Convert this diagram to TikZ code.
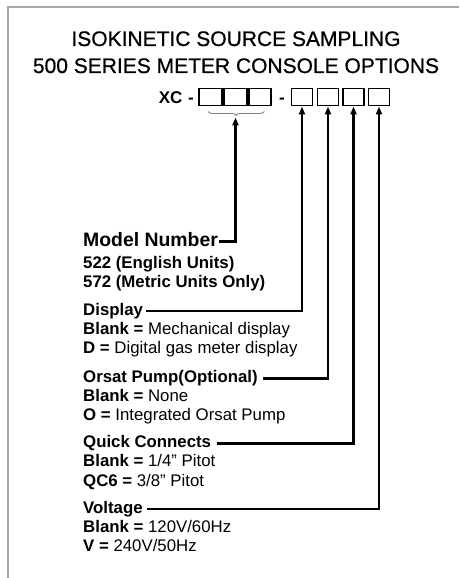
\documentclass[tikz,border=0pt]{standalone}
\usepackage{fontspec}
\setmainfont{Liberation Sans}
\newfontfamily\titlefont[FakeBold=0.7]{Liberation Sans}
\usetikzlibrary{arrows.meta, positioning, decorations.pathreplacing}

\begin{document}
\begin{tikzpicture}[
    x=1pt, y=-1pt,
    ttl/.style={font=\titlefont\fontsize{21}{25}\selectfont, anchor=base, inner sep=0pt},
    code/.style={font=\fontsize{17}{20}\selectfont\bfseries, anchor=base, inner sep=0pt},
    slotA/.style={draw, line width=1.9pt, minimum width=22.5pt, minimum height=17pt, inner sep=0pt},
    slotB/.style={draw, line width=1.9pt, minimum width=21pt, minimum height=17pt, inner sep=0pt},
    mdlhdr/.style={font=\fontsize{19.4}{22}\selectfont\bfseries, anchor=base west, inner sep=1pt,
                   text height=13pt, text depth=4pt},
    hdr/.style={font=\fontsize{16.8}{19}\selectfont\bfseries, anchor=base west, inner sep=1pt,
                text height=11pt, text depth=3pt},
    opt/.style={font=\fontsize{16.8}{19}\selectfont, anchor=base west, inner sep=1pt},
    arr/.style={-{Triangle[length=8pt, width=6pt]}, line width=2.2pt},
    brc/.style={draw=gray, line width=0.9pt, decorate,
                decoration={brace, mirror, amplitude=4pt}},
    frame/.style={draw=gray!70, line width=1.3pt}
]
\useasboundingbox (0,0) rectangle (459,578);

% frame (top and left edge only)
\draw[frame] (459,7) -| (8,578);

% title
\node[ttl] (t1) at (236,46) {ISOKINETIC SOURCE SAMPLING};
\node[ttl] (t2) at (236,73) {500 SERIES METER CONSOLE OPTIONS};

% part number  XC - [][][] - [][][][]
\node[code, anchor=base east] (xc) at (194,103) {XC\,\,-};
\node[slotA] (m1) at (210.5,97) {};
\node[slotA] (m2) at (235.5,97) {};
\node[slotA] (m3) at (260,97) {};
\node[code] (dash) at (282,103) {-};
\node[slotB] (d1) at (302,97) {};
\node[slotB] (d2) at (328,97) {};
\node[slotB] (d3) at (353.5,97) {};
\node[slotB] (d4) at (379,97) {};

% brace under the model digits
\draw[brc] ([xshift=10pt, yshift=-5pt]m1.south west) -- ([xshift=-8pt, yshift=-5pt]m3.south east);
\coordinate (tip) at ([yshift=-11pt]m2.south);

% option blocks
\node[mdlhdr] (mdl)  at (82,246)   {Model Number};
\node[opt]    (mdl1) at (82,268)   {\bfseries 522 (English Units)};
\node[opt]    (mdl2) at (82,287)   {\bfseries 572 (Metric Units Only)};

\node[hdr]    (disp)  at (82,315)   {Display};
\node[opt]    (disp1) at (82,334)   {\textbf{Blank =} Mechanical display};
\node[opt]    (disp2) at (82,353.5) {\textbf{D =} Digital gas meter display};

\node[hdr]    (orsat)  at (82,382.5) {Orsat Pump(Optional)};
\node[opt]    (orsat1) at (82,401.5) {\textbf{Blank =} None};
\node[opt]    (orsat2) at (82,420.5) {\textbf{O =} Integrated Orsat Pump};

\node[hdr]    (qc)  at (82,447.5) {Quick Connects};
\node[opt]    (qc1) at (82,466.5) {\textbf{Blank =} 1/4'' Pitot};
\node[opt]    (qc2) at (82,486.5) {\textbf{QC6 =} 3/8'' Pitot};

\node[hdr]    (volt)  at (82,513)   {Voltage};
\node[opt]    (volt1) at (82,532.5) {\textbf{Blank =} 120V/60Hz};
\node[opt]    (volt2) at (82,551.5) {\textbf{V =} 240V/50Hz};

% leader lines up to the slots
\draw[arr] (mdl.east) -| (tip);
\draw[arr] ([xshift=2pt]disp.east) -| (d1.south);
\draw[arr] ([xshift=4pt]orsat.east) -| (d2.south);
\draw[arr] ([xshift=5pt]qc.east) -| (d3.south);
\draw[arr] ([xshift=3pt]volt.east) -| (d4.south);

\end{tikzpicture}
\end{document}
